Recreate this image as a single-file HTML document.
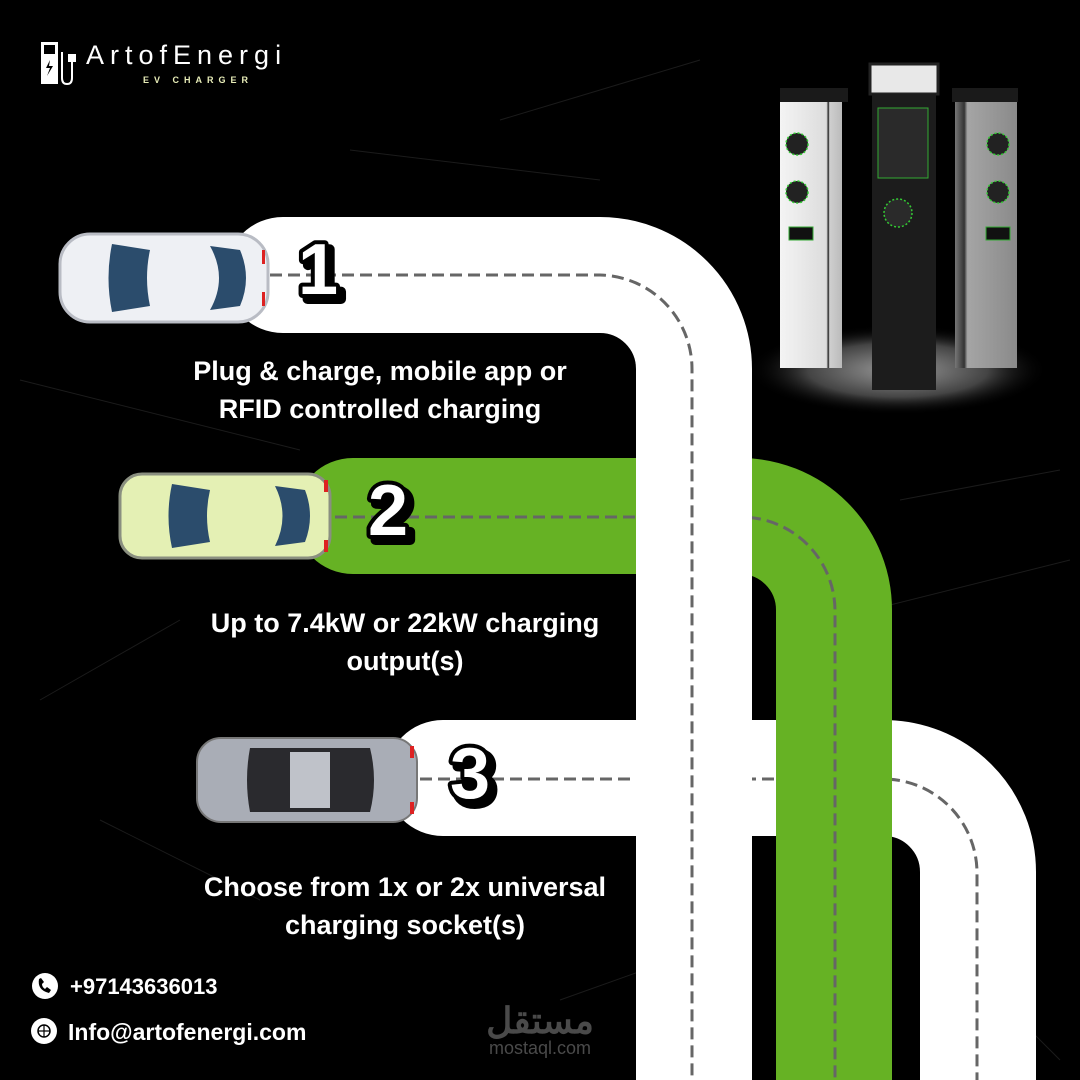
<!DOCTYPE html>
<html><head><meta charset="utf-8"><style>
html,body{margin:0;padding:0;background:#000}
svg{display:block}
</style></head><body>
<svg width="1080" height="1080" viewBox="0 0 1080 1080" xmlns="http://www.w3.org/2000/svg">
<defs>
<radialGradient id="glow" cx="0.5" cy="0.5" r="0.5">
<stop offset="0" stop-color="#9a9a9a"/><stop offset="0.6" stop-color="#444"/><stop offset="1" stop-color="#000" stop-opacity="0"/>
</radialGradient>
<linearGradient id="wp" x1="0" x2="1"><stop offset="0" stop-color="#f4f4f4"/><stop offset="0.75" stop-color="#dcdcdc"/><stop offset="0.78" stop-color="#222"/><stop offset="0.8" stop-color="#cfcfcf"/><stop offset="1" stop-color="#bbb"/></linearGradient>
<linearGradient id="gp" x1="0" x2="1"><stop offset="0" stop-color="#777"/><stop offset="0.15" stop-color="#333"/><stop offset="0.2" stop-color="#a5a5a5"/><stop offset="1" stop-color="#8a8a8a"/></linearGradient>
</defs>
<rect width="1080" height="1080" fill="#000"/>
<g stroke="#222" stroke-width="1" fill="none" opacity="0.8">
<path d="M20 380 L300 450 M500 120 L700 60 M40 700 L180 620 M900 500 L1060 470 M830 620 L1070 560 M560 1000 L700 950 M100 820 L260 900 M950 950 L1060 1060 M350 150 L600 180"/>
</g>
<ellipse cx="898" cy="370" rx="150" ry="45" fill="url(#glow)"/>
<rect x="780" y="88" width="68" height="14" fill="#1a1a1a"/>
<rect x="780" y="102" width="62" height="266" fill="url(#wp)"/>
<circle cx="797" cy="144" r="11" fill="#222" stroke="#3c3" stroke-width="1.5" stroke-dasharray="2 2"/>
<circle cx="797" cy="192" r="11" fill="#222" stroke="#3c3" stroke-width="1.5" stroke-dasharray="2 2"/>
<rect x="789" y="227" width="24" height="13" fill="#111" stroke="#3a3" stroke-width="1"/>
<rect x="952" y="88" width="66" height="14" fill="#1a1a1a"/>
<rect x="955" y="102" width="62" height="266" fill="url(#gp)"/>
<circle cx="998" cy="144" r="11" fill="#222" stroke="#3c3" stroke-width="1.5" stroke-dasharray="2 2"/>
<circle cx="998" cy="192" r="11" fill="#222" stroke="#3c3" stroke-width="1.5" stroke-dasharray="2 2"/>
<rect x="986" y="227" width="24" height="13" fill="#111" stroke="#3a3" stroke-width="1"/>
<rect x="870" y="64" width="68" height="30" fill="#e8e8e8" stroke="#222" stroke-width="3"/>
<rect x="872" y="94" width="64" height="296" fill="#1c1c1c"/>
<rect x="878" y="108" width="50" height="70" fill="#2a2a2a" stroke="#3a3" stroke-width="1"/>
<circle cx="898" cy="213" r="14" fill="#2a2a2a" stroke="#3c3" stroke-width="1.5" stroke-dasharray="2 2"/>
<path d="M443 778 H884 A94 94 0 0 1 978 872 V1100" stroke="#fff" stroke-width="116" fill="none" stroke-linecap="round"/>
<path d="M420 779 H884 A94 94 0 0 1 977 872 V1100" stroke="#666" stroke-width="3" fill="none" stroke-dasharray="12 6"/>
<path d="M353 516 H740 A94 94 0 0 1 834 610 V1100" stroke="#66b224" stroke-width="116" fill="none" stroke-linecap="round"/>
<path d="M335 517 H740 A94 94 0 0 1 835 610 V1100" stroke="#666" stroke-width="3" fill="none" stroke-dasharray="12 6"/>
<path d="M283 275 H600 A94 94 0 0 1 694 369 V1100" stroke="#fff" stroke-width="116" fill="none" stroke-linecap="round"/>
<path d="M270 275 H600 A94 94 0 0 1 692 369 V1100" stroke="#666" stroke-width="3" fill="none" stroke-dasharray="12 6"/>
<g>
<rect x="60" y="234" width="208" height="88" rx="30" fill="#eef0f4" stroke="#b9bcc4" stroke-width="3"/>
<path d="M112 244 Q105 278 112 312 L150 306 Q144 278 150 250 Z" fill="#2b4c6c"/>
<path d="M210 246 Q228 278 210 310 L240 306 Q252 278 240 250 Z" fill="#2b4c6c"/>
<rect x="262" y="250" width="3" height="14" fill="#d22"/><rect x="262" y="292" width="3" height="14" fill="#d22"/>
</g>
<g>
<rect x="120" y="474" width="210" height="84" rx="22" fill="#e4f0b4" stroke="#8a8f80" stroke-width="3"/>
<path d="M172 484 Q165 516 172 548 L210 542 Q204 516 210 490 Z" fill="#2b4c6c"/>
<path d="M275 486 Q290 516 275 546 L305 542 Q315 516 305 490 Z" fill="#2b4c6c"/>
<rect x="324" y="480" width="4" height="12" fill="#d22"/><rect x="324" y="540" width="4" height="12" fill="#d22"/>
</g>
<g>
<rect x="197" y="738" width="220" height="84" rx="24" fill="#a9adb6" stroke="#777" stroke-width="2"/>
<path d="M250 748 Q244 780 250 812 L370 812 Q378 780 370 748 Z" fill="#2a2a2e"/>
<rect x="290" y="752" width="40" height="56" fill="#bfc2c9"/>
<rect x="410" y="746" width="4" height="12" fill="#d22"/><rect x="410" y="802" width="4" height="12" fill="#d22"/>
</g>
<g font-family="Liberation Sans, sans-serif" font-weight="bold" font-size="72" paint-order="stroke" stroke-linejoin="round">
<text x="303" y="299" fill="#000" stroke="#000" stroke-width="10">1</text>
<text x="298" y="294" fill="#fff" stroke="#000" stroke-width="8">1</text>
<text x="373" y="540" fill="#000" stroke="#000" stroke-width="10">2</text>
<text x="368" y="535" fill="#fff" stroke="#000" stroke-width="8">2</text>
<text x="455" y="803" fill="#000" stroke="#000" stroke-width="10">3</text>
<text x="450" y="798" fill="#fff" stroke="#000" stroke-width="8">3</text>
</g>
<g font-family="Liberation Sans, sans-serif" font-weight="bold" font-size="27" fill="#fff" text-anchor="middle">
<text x="380" y="380">Plug &amp; charge, mobile app or</text>
<text x="380" y="418">RFID controlled charging</text>
<text x="405" y="632">Up to 7.4kW or 22kW charging</text>
<text x="405" y="670">output(s)</text>
<text x="405" y="896">Choose from 1x or 2x universal</text>
<text x="405" y="934">charging socket(s)</text>
</g>
<rect x="41" y="42" width="17" height="42" fill="#fff"/>
<rect x="44" y="45" width="11" height="9" fill="#000"/>
<path d="M50 60 L46 68 L50 68 L47 76 L53 66 L49 66 Z" fill="#000"/>
<path d="M62 52 L62 78 Q62 84 67 84 Q72 84 72 78 L72 62" stroke="#fff" stroke-width="2" fill="none"/>
<rect x="68" y="54" width="8" height="8" fill="#fff"/>
<text x="86" y="64" font-family="Liberation Sans, sans-serif" font-size="27" fill="#fff" letter-spacing="6">ArtofEnergi</text>
<text x="143" y="83" font-family="Liberation Sans, sans-serif" font-weight="bold" font-size="9" fill="#e8edb8" letter-spacing="5">EV CHARGER</text>
<circle cx="45" cy="986" r="13" fill="#fff"/>
<path d="M39 979 Q37 990 49 993 L51 990 L47 987 L45 989 Q42 987 42 984 L44 982 L41 978 Z" fill="#000"/>
<circle cx="44" cy="1031" r="13" fill="#fff"/>
<circle cx="44" cy="1031" r="6" fill="none" stroke="#000" stroke-width="1.5"/>
<path d="M38 1031 H50 M44 1025 V1037" stroke="#000" stroke-width="1.2"/>
<g font-family="Liberation Sans, sans-serif" font-weight="bold" fill="#fff">
<text x="70" y="994" font-size="22">+97143636013</text>
<text x="68" y="1040" font-size="23">Info@artofenergi.com</text>
</g>
<text x="540" y="1033" font-family="Liberation Sans, 'Noto Sans CJK SC', sans-serif" font-weight="bold" font-size="36" fill="#4a4a4a" text-anchor="middle">مستقل</text>
<text x="540" y="1054" font-family="Liberation Sans, sans-serif" font-size="18" fill="#4a4a4a" text-anchor="middle">mostaql.com</text>
</svg>
</body></html>
